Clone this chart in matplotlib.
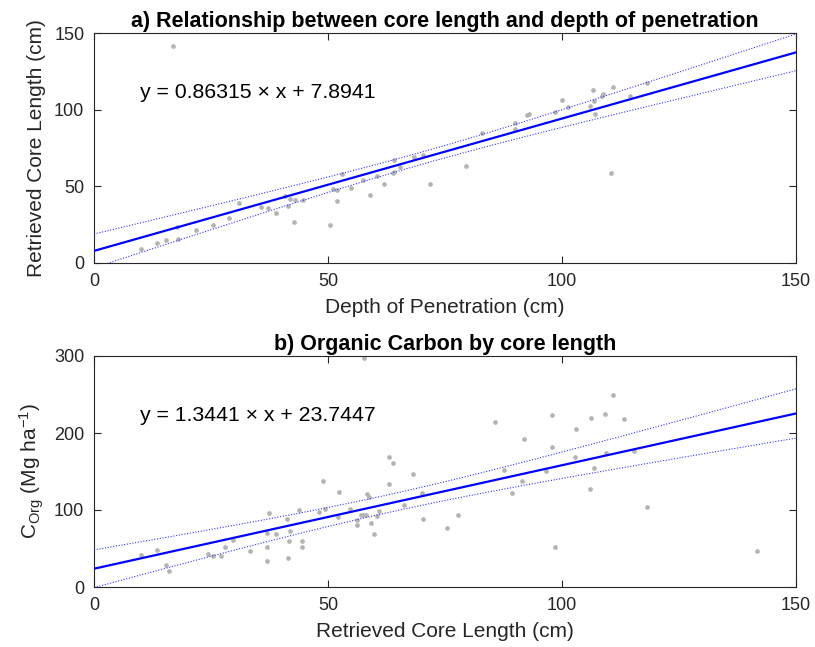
import numpy as np
import matplotlib
matplotlib.use("Agg")
import matplotlib.pyplot as plt

# ---------------- data ----------------
# Panel a: depth of penetration (cm) vs retrieved core length (cm)
depth = [16.8, 10.0, 13.4, 15.4, 18.0, 17.8, 21.8, 25.4, 28.9, 30.9,
         35.7, 37.1, 38.9, 40.8, 41.4, 41.9, 42.7, 43.0, 44.6, 50.4,
         51.0, 52.0, 51.9, 53.0, 54.9, 57.5, 59.0, 60.4, 62.0, 64.0,
         63.8, 64.1, 65.4, 68.4, 70.2, 71.9, 79.5, 83.0, 90.0, 90.0,
         92.5, 93.0, 98.6, 100.1, 101.2, 106.0, 106.6, 106.9, 107.1, 108.5,
         108.8, 111.0, 110.5, 114.5, 118.1]
core_a = [141.5, 9.3, 12.8, 15.0, 15.7, 23.7, 21.5, 25.0, 29.2, 38.9,
          36.7, 36.1, 32.8, 43.7, 37.2, 41.5, 26.7, 41.0, 41.0, 24.8,
          48.0, 47.6, 40.7, 57.8, 48.7, 54.0, 44.1, 56.7, 51.7, 67.2,
          58.5, 59.6, 62.8, 69.3, 70.4, 51.7, 63.3, 85.0, 91.5, 87.2,
          96.3, 97.2, 98.5, 106.3, 102.0, 102.4, 112.9, 105.9, 97.2, 108.9,
          110.2, 115.0, 58.9, 108.9, 117.6]

# Panel b: retrieved core length (cm) vs organic carbon (Mg/ha)
core_b = [57.7, 10.0, 13.4, 15.4, 16.0, 24.4, 25.4, 27.1, 27.9, 29.6,
          33.3, 36.9, 36.9, 36.9, 37.3, 38.9, 41.2, 41.5, 41.7, 41.9,
          43.9, 44.4, 44.4, 48.1, 49.0, 49.4, 52.2, 52.3, 54.6, 56.3,
          56.3, 57.0, 57.4, 58.3, 58.8, 58.1, 59.2, 59.8, 60.5, 61.0,
          63.0, 63.1, 63.8, 66.3, 68.1, 70.1, 70.2, 75.4, 77.8, 85.7,
          87.5, 89.3, 91.5, 91.9, 96.6, 97.8, 97.9, 98.5, 102.8, 103.0,
          106.0, 106.3, 106.8, 109.2, 109.5, 111.0, 113.3, 115.4, 118.1, 141.7]
corg = [297.0, 41.6, 48.0, 28.1, 21.2, 42.4, 40.3, 40.3, 51.5, 61.0,
        47.2, 34.2, 52.4, 69.7, 96.5, 68.8, 88.3, 37.7, 60.1, 72.3,
        100.0, 59.3, 51.5, 97.8, 138.0, 101.7, 91.3, 123.4, 101.7, 80.1,
        87.0, 93.1, 93.9, 120.8, 116.5, 93.9, 83.5, 68.8, 92.2, 99.1,
        133.4, 168.4, 160.6, 106.5, 146.4, 122.5, 88.7, 76.2, 93.1, 213.9,
        152.0, 121.7, 137.7, 191.8, 150.6, 223.4, 181.4, 51.5, 169.2, 204.8,
        127.7, 219.9, 154.1, 225.1, 173.6, 249.0, 217.8, 177.0, 103.9, 47.2]

# Fitted lines (from the equations shown)
slope_a, icept_a = 0.86315, 7.8941
slope_b, icept_b = 1.3441, 23.7447
# Confidence band shape: half-width at x=0, at x=150, minimum half-width
band_a = (11.0, 12.0, 4.0)
band_b = (24.5, 32.0, 11.5)

titles = ["a) Relationship between core length and depth of penetration",
          "b) Organic Carbon by core length"]
xlabels = ["Depth of Penetration (cm)", "Retrieved Core Length (cm)"]
ylabels = ["Retrieved Core Length (cm)", r"C$_{\mathrm{Org}}$ (Mg ha$^{-1}$)"]
eq_texts = ["y = 0.86315 × x + 7.8941", "y = 1.3441 × x + 23.7447"]
xticks = [0, 50, 100, 150]
yticks_a = [0, 50, 100, 150]
yticks_b = [0, 100, 200, 300]

# ---------------- style ----------------
FAM = ["Liberation Sans", "DejaVu Sans"]
plt.rcParams["font.family"] = FAM
plt.rcParams["mathtext.fontset"] = "custom"
plt.rcParams["mathtext.rm"] = "Liberation Sans"
plt.rcParams["mathtext.it"] = "Liberation Sans:italic"
plt.rcParams["mathtext.bf"] = "Liberation Sans:bold"
DARK = "#262626"

W, H = 815, 647
fig = plt.figure(figsize=(W / 100, H / 100), dpi=100)

def box(l, t, r, b):
    return [l / W, 1 - b / H, (r - l) / W, (b - t) / H]

ax_a = fig.add_axes(box(94, 33, 796, 263))
ax_b = fig.add_axes(box(94, 356, 796, 587))

def band(x, h0x, h150, hmin):
    # hyperbolic confidence-band half-width through the read widths
    a = hmin ** 2
    kc = np.sqrt(h0x ** 2 - a)
    kr = np.sqrt(h150 ** 2 - a)
    k = (kc + kr) / 150.0
    c = kc / k
    return np.sqrt(a + (k * (x - c)) ** 2)

def draw(ax, xs, ys, slope, icept, bnd, yticks, ymax, title, xl, yl, eq, eqy):
    ax.plot(xs, ys, "o", ms=3.4, color="#b4b4b4", mec="none", zorder=2)
    xx = np.linspace(0, 150, 300)
    fit = slope * xx + icept
    hw = band(xx, *bnd)
    ax.plot(xx, fit, color="#0000ff", lw=1.6, zorder=3)
    ax.plot(xx, fit + hw, ls=(0, (1, 1.5)), color="#3333ff", lw=0.8, zorder=3)
    ax.plot(xx, fit - hw, ls=(0, (1, 1.5)), color="#3333ff", lw=0.8, zorder=3)
    ax.set_xlim(0, 150)
    ax.set_ylim(0, ymax)
    ax.set_xticks(xticks)
    ax.set_yticks(yticks)
    ax.tick_params(direction="in", length=5, width=0.8, colors=DARK,
                   labelsize=13, top=True, right=True, pad=7)
    for s in ax.spines.values():
        s.set_color(DARK)
        s.set_linewidth(0.8)
    ax.set_title(title, fontsize=15.5, fontweight="bold", color="black", pad=4)
    ax.set_xlabel(xl, fontsize=15, color=DARK, labelpad=6)
    ax.set_ylabel(yl, fontsize=15, color=DARK, labelpad=6)
    ax.text(9.8, eqy, eq, fontsize=15.3, va="center", ha="left", color="black")

draw(ax_a, depth, core_a, slope_a, icept_a, band_a, yticks_a, 150,
     titles[0], xlabels[0], ylabels[0], eq_texts[0], 111.5)
draw(ax_b, core_b, corg, slope_b, icept_b, band_b, yticks_b, 300,
     titles[1], xlabels[1], ylabels[1], eq_texts[1], 223)

fig.savefig("out.png", dpi=100)
